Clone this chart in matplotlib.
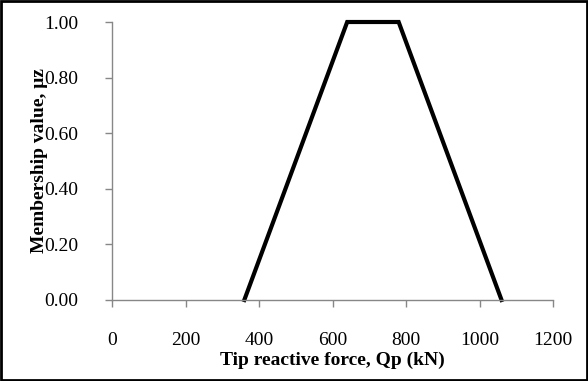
import matplotlib
matplotlib.use('Agg')
from matplotlib import pyplot as plt
from matplotlib.patches import Rectangle

# trapezoid membership function points
force = [360, 640, 780, 1060]
membership = [0.0, 1.0, 1.0, 0.0]

x_ticks = [0, 200, 400, 600, 800, 1000, 1200]
y_ticks = [0.0, 0.2, 0.4, 0.6, 0.8, 1.0]

plt.rcParams['font.family'] = ['Liberation Serif', 'DejaVu Serif']
plt.rcParams['font.size'] = 14

fig = plt.figure(figsize=(5.88, 3.81), dpi=100)
ax = fig.add_axes([112 / 588, 1 - 300 / 381, (553 - 112) / 588, (300 - 22) / 381])

ax.plot(force, membership, color='black', lw=3, solid_joinstyle='miter', clip_on=False)

ax.set_xlim(0, 1200)
ax.set_ylim(0, 1)
ax.set_xticks(x_ticks)
ax.set_yticks(y_ticks)
ax.set_yticklabels(['{:.2f}'.format(v) for v in y_ticks])

for s in ['top', 'right']:
    ax.spines[s].set_visible(False)
for s in ['left', 'bottom']:
    ax.spines[s].set_color('#878787')
    ax.spines[s].set_linewidth(1)
ax.tick_params(color='#878787', length=5, width=1, labelcolor='black')
ax.tick_params(axis='x', pad=18)
ax.tick_params(axis='y', pad=19)

ax.set_xlabel('Tip reactive force, Qp (kN)', fontweight='bold', labelpad=2)
fig.text(40 / 588, 1 - 161 / 381, 'Membership value, μz', rotation=90, fontweight='bold',
         ha='center', va='center', fontsize=14)

# outer border
fig.patches.append(Rectangle((0.002, 0.003), 0.996, 0.994, transform=fig.transFigure,
                             fill=False, edgecolor='black', lw=2))

fig.savefig('out.png', dpi=100)
